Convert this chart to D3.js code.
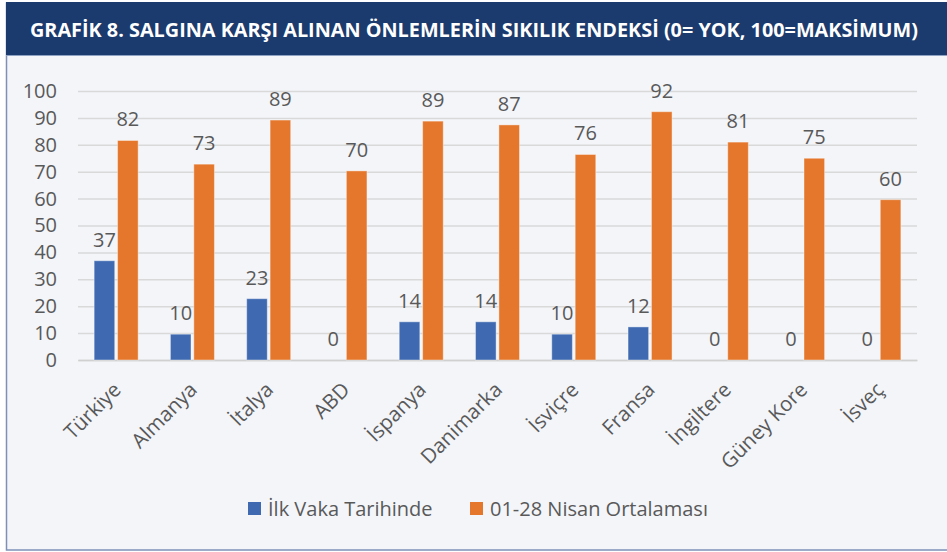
<!DOCTYPE html>
<html>
<head>
<meta charset="utf-8">
<script src="https://cdn.jsdelivr.net/npm/d3@7"></script>
<style>
  html, body { margin: 0; padding: 0; background: #ffffff; }
  svg { display: block; }
  text { font-family: "Open Sans", "DejaVu Sans", sans-serif; }
</style>
</head>
<body>
<svg width="947" height="552"></svg>
<script>
// data
var countries = ["Türkiye", "Almanya", "İtalya", "ABD", "İspanya", "Danimarka", "İsviçre", "Fransa", "İngiltere", "Güney Kore", "İsveç"];
var ilkVaka = [36.9, 9.6, 22.8, 0, 14.2, 14.2, 9.6, 12.3, 0, 0, 0];
var nisanOrt = [81.6, 72.8, 89.2, 70.3, 88.8, 87.4, 76.4, 92.3, 81, 75, 59.6];
var seriesNames = ["İlk Vaka Tarihinde", "01-28 Nisan Ortalaması"];
var seriesColors = ["#3f6ab1", "#e4772c"];
var yTicks = [0, 10, 20, 30, 40, 50, 60, 70, 80, 90, 100];
var title = "GRAFİK 8. SALGINA KARŞI ALINAN ÖNLEMLERİN SIKILIK ENDEKSİ (0= YOK, 100=MAKSİMUM)";

var svg = d3.select("svg");

// kader en achtergrond
svg.append("rect")
    .attr("x", 6.5).attr("y", 3)
    .attr("width", 960).attr("height", 547)
    .attr("fill", "#f3f5f9")
    .attr("stroke", "#7d91b7")
    .attr("stroke-width", 1.5);

// titelbalk
svg.append("rect")
    .attr("x", 6).attr("y", 2)
    .attr("width", 941).attr("height", 53)
    .attr("fill", "#1b3a6d");
svg.append("line")
    .attr("x1", 6).attr("x2", 947).attr("y1", 55.5).attr("y2", 55.5)
    .attr("stroke", "#8ea2c4").attr("stroke-width", 1);

svg.append("text")
    .attr("x", 30).attr("y", 37)
    .attr("textLength", 888)
    .attr("lengthAdjust", "spacingAndGlyphs")
    .style("font-family", "'Liberation Sans Narrow', 'Open Sans', sans-serif")
    .style("font-weight", "bold")
    .style("font-size", "19px")
    .attr("fill", "#ffffff")
    .text(title);

var margin = { left: 78, right: 30, top: 91, bottom: 192 },
    width = 947 - margin.left - margin.right,
    height = 552 - margin.top - margin.bottom;

var x = d3.scaleBand().domain(countries).range([0, width]);
var inner = d3.scaleBand().domain([0, 1]).range([x.bandwidth() / 2 - 22, x.bandwidth() / 2 + 22]).paddingInner(0.12);
var y = d3.scaleLinear().domain([0, 100]).range([height, 0]);

var g = svg.append("g")
    .attr("transform", "translate(" + margin.left + "," + margin.top + ")");

// rasterlijnen + y-as
var yAxis = g.append("g")
    .call(d3.axisLeft(y).tickValues(yTicks).tickSize(-width).tickPadding(21));
yAxis.select(".domain").remove();
yAxis.selectAll(".tick line")
    .attr("stroke", "#d9d9d9")
    .attr("stroke-width", 1.5);
yAxis.selectAll(".tick text")
    .attr("fill", "#595959")
    .style("font-size", "20px")
    .style("font-family", "'Open Sans', sans-serif");

// x-as
var xAxis = g.append("g")
    .attr("transform", "translate(0," + height + ")")
    .call(d3.axisBottom(x).tickSize(0).tickPadding(0));
xAxis.select(".domain").attr("stroke", "#d0d0d0").attr("stroke-width", 1.5);
xAxis.selectAll(".tick text")
    .attr("fill", "#595959")
    .style("font-size", "20.5px")
    .style("font-family", "'Open Sans', sans-serif")
    .attr("text-anchor", "end")
    .attr("dy", null)
    .attr("y", 0)
    .attr("transform", "translate(6,31) rotate(-45)");

var rows = countries.map(function(c, i) {
    return { country: c, values: [ilkVaka[i], nisanOrt[i]] };
});

var groups = g.selectAll(".group")
    .data(rows)
    .enter().append("g")
    .attr("class", "group")
    .attr("transform", function(d) { return "translate(" + x(d.country) + ",0)"; });

var cells = groups.selectAll(".cell")
    .data(function(d) { return d.values.map(function(v, k) { return { k: k, v: v }; }); })
    .enter();

cells.append("rect")
    .attr("x", function(d) { return inner(d.k); })
    .attr("y", function(d) { return y(d.v); })
    .attr("width", inner.bandwidth())
    .attr("height", function(d) { return height - y(d.v); })
    .attr("fill", function(d) { return seriesColors[d.k]; })
    .attr("stroke", "#ffffff")
    .attr("stroke-opacity", 0.4)
    .attr("stroke-width", 1);

cells.append("text")
    .attr("x", function(d) { return inner(d.k) + inner.bandwidth() / 2; })
    .attr("y", function(d) { return y(d.v) - 14; })
    .attr("text-anchor", "middle")
    .attr("fill", "#595959")
    .style("font-size", "20px")
    .text(function(d) { return d3.format(".0f")(d.v); });

// legenda
var legendX = [248, 470];
var legend = svg.selectAll(".legend")
    .data(seriesNames)
    .enter().append("g")
    .attr("class", "legend")
    .attr("transform", function(d, i) { return "translate(" + legendX[i] + ",502)"; });
legend.append("rect")
    .attr("width", 13).attr("height", 13)
    .attr("fill", function(d, i) { return seriesColors[i]; });
legend.append("text")
    .attr("x", 20).attr("y", 14)
    .attr("fill", "#595959")
    .style("font-size", "20px")
    .text(function(d) { return d; });
</script>
</body>
</html>
